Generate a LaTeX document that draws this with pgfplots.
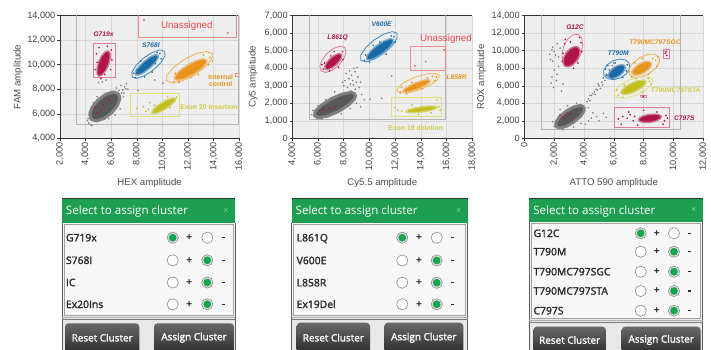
\documentclass[border=0pt]{standalone}
\usepackage{pgfplots}
\pgfplotsset{compat=1.18}
\usepackage{fontspec}
\setmainfont{Liberation Sans}
\newfontfamily\uifont{Open Sans}
\newfontfamily\uisemi[FakeBold=1.8]{Open Sans}

% plot colours
\definecolor{plotbg}{RGB}{238,238,238}
\definecolor{gridc}{RGB}{215,215,215}
\definecolor{gatec}{RGB}{180,180,180}
\definecolor{gcore}{RGB}{88,88,88}
\definecolor{ghalo}{RGB}{128,128,128}
\definecolor{crim}{RGB}{176,20,72}
\definecolor{crimL}{RGB}{226,122,156}
\definecolor{blu}{RGB}{26,106,166}
\definecolor{bluL}{RGB}{62,136,196}
\definecolor{org}{RGB}{232,148,28}
\definecolor{orgL}{RGB}{242,178,80}
\definecolor{yel}{RGB}{194,190,28}
\definecolor{yelL}{RGB}{224,222,118}
\definecolor{yelT}{RGB}{206,202,70}
\definecolor{unas}{RGB}{238,72,72}
\definecolor{unasL}{RGB}{240,140,140}
% panel colours
\definecolor{hdr}{RGB}{30,158,80}
\definecolor{hdrline}{RGB}{40,50,45}
\definecolor{hdrx}{RGB}{140,210,165}
\definecolor{listbg}{RGB}{247,247,247}
\definecolor{btnbg}{RGB}{232,232,232}
\definecolor{frame}{RGB}{90,90,90}
\definecolor{listline}{RGB}{160,160,160}
\definecolor{sepline}{RGB}{175,175,175}
\definecolor{uitext}{RGB}{40,40,40}
\definecolor{radring}{RGB}{140,140,140}
\definecolor{radsel}{RGB}{225,225,225}
\definecolor{radgreen}{RGB}{24,165,80}
\definecolor{btntop}{RGB}{105,105,105}
\definecolor{btnbot}{RGB}{34,34,34}

\pgfplotsset{
  dpcr/.style={
    scale only axis, height=122.6bp,
    axis background/.style={fill=plotbg},
    axis x line*=box, axis y line*=left,
    axis line style={draw=black!80, line width=0.6bp},
    xtick pos=left, tick align=outside,
    major tick length=2.5bp,
    tick style={draw=black!80, line width=0.5bp},
    grid=major, major grid style={draw=gridc, line width=0.5bp},
    ticklabel style={font=\fontsize{9.2}{9.2}\selectfont, text=black!75},
    xticklabel style={rotate=90, anchor=east, inner sep=1.5bp},
    yticklabel style={inner sep=2bp},
    label style={font=\fontsize{9.7}{10}\selectfont, text=black!70},
    xlabel style={at={(axis description cs:0.5,-0.362)}, anchor=center},
  },
  cluster/.style={color=#1, fill=#1, draw=#1!55!plotbg, line width=1.4bp, line join=round, mark=none},
  gray cluster/.style={color=gcore, fill=gcore, draw=ghalo, line width=3bp, line join=round, mark=none},
  ring/.style={color=#1, line width=0.8bp, line join=round, mark=none},
  gate/.style={color=#1, line width=0.8bp, mark=none},
  scat/.style={color=#1, only marks, mark=*, mark size=0.6bp, mark options={draw=none, fill=#1}},
}
\newcommand{\clab}{\bfseries\itshape\fontsize{6.7}{7}\selectfont}
\newcommand{\tlab}{\bfseries\fontsize{6.9}{7.6}\selectfont}
\newcommand{\ulab}{\fontsize{9.8}{10}\selectfont}

% cluster-assignment panel pieces
\newcommand{\radiobtn}[3]{%
  \ifnum#3=1
    \fill[radsel] (#1,#2) circle (5.6bp);
    \draw[radring, line width=0.6bp] (#1,#2) circle (5.6bp);
    \fill[radgreen] (#1,#2) circle (3.9bp);
  \else
    \fill[white] (#1,#2) circle (5.6bp);
    \draw[radring, line width=0.6bp] (#1,#2) circle (5.6bp);
  \fi}
\newcommand{\uipanel}[4]{% left, right, header bottom, list bottom
  \fill[listbg] (#1,#3) rectangle (#2,#4+1);
  \fill[btnbg] (#1,#4+1) rectangle (#2,352);
  \fill[hdr] (#1,198.5) rectangle (#2,#3);
  \draw[hdrline, line width=0.9bp] (#1,198.5) -- (#2,198.5);
  \draw[frame, line width=0.8bp] (#1,#3) -- (#1,352) (#2,#3) -- (#2,352);
  \draw[listline, line width=0.6bp] (#1+2,#3+0.8) rectangle (#2-2,#4);
  \draw[sepline, line width=0.7bp] (#1,#4+2) -- (#2,#4+2);
  \draw[sepline!70!black, line width=0.7bp] (#1,#4+4.3) -- (#2,#4+4.3);
  \node[anchor=west, inner sep=0, text height=8.2bp, text depth=0bp, text=white,
        font=\uifont\fontsize{11.6}{12}\selectfont] at (#1+3.8,{(198.5+#3)/2}) {Select to assign cluster};
  \node[inner sep=0, text=hdrx, font=\uifont\fontsize{9}{9}\selectfont] at (#2-9,{(198.5+#3)/2}) {×};
}
\newcommand{\uirow}[4]{% y, label, first selected, second selected
  \node[anchor=west, inner sep=0, text height=7.4bp, text depth=0bp, text=uitext,
        font=\uisemi\fontsize{10.4}{11}\selectfont] at (\tx,#1) {#2};
  \radiobtn{\ra}{#1}{#3}
  \node[inner sep=0, font=\bfseries\fontsize{10}{10}\selectfont, text=uitext] at (\pl,#1) {+};
  \radiobtn{\rb}{#1}{#4}
  \fill[uitext] (\mi-1.6,#1-0.7) rectangle (\mi+1.6,#1+0.7);
}
\newcommand{\uibutton}[5]{% left, right, top, text y, label
  \shade[top color=btntop, bottom color=btnbot, rounded corners=3.5bp] (#1,#3) rectangle (#2,358);
  \node[inner sep=0, text=white, font=\uisemi\fontsize{10}{10}\selectfont] at ({(#1+#2)/2},#4) {#5};
}

\begin{document}
\begin{tikzpicture}
\fill[white] (0,0) rectangle (711bp,-350bp);
\path[use as bounding box] (0,0) rectangle (711bp,-350bp);

% ---------------- HEX / FAM
\begin{axis}[dpcr, at={(60bp,-138.3bp)}, anchor=south west, width=179.3bp,
  xmin=2, xmax=16, ymin=4, ymax=14,
  xtick={2,4,...,16}, xticklabels={{2,000},{4,000},{6,000},{8,000},{10,000},{12,000},{14,000},{16,000}},
  ytick={4,6,...,14}, yticklabels={{4,000},{6,000},{8,000},{10,000},{12,000},{14,000}},
  xlabel={HEX amplitude}, ylabel={FAM amplitude},
  ylabel style={at={(axis description cs:-0.234,0.5)}, anchor=center}]
\addplot[gate=gatec, line width=1bp] coordinates {(3.3,5.1) (15.9,5.1) (15.9,14.3) (3.3,14.3) (3.3,5.1)};
\addplot[gate=unasL] coordinates {(8.12,12.25) (15.75,12.25) (15.75,14.3) (8.12,14.3) (8.12,12.25)};
\addplot[scat=unas] coordinates {(8.56,13.64) (15.1,12.6)};
% negatives
\addplot[gray cluster] coordinates {(6.56,7.66) (6.15,7.78) (5.57,7.59) (4.97,7.13) (4.51,6.53) (4.32,5.95) (4.44,5.54) (4.85,5.42) (5.43,5.61) (6.03,6.07) (6.49,6.67) (6.68,7.25) (6.56,7.66)};
\addplot[scat=ghalo] coordinates {(4.25,5.25) (4.4,5.1) (4.2,5.6) (4.5,5.05) (6.8,7.7) (6.9,7.95) (7.05,8.2) (7.2,8.45) (6.6,7.9) (7.0,7.7) (6.75,8.3) (7.3,8.0) (6.4,8.1) (5.0,8.55) (5.6,8.75) (5.3,8.6) (8.1,7.9) (9.4,8.75) (10.05,8.5) (4.3,6.1) (4.6,6.9) (6.7,6.4) (6.3,5.9) (5.8,5.6) (4.9,7.4) (6.95,7.4) (7.15,8.05) (4.15,5.45)};
\addplot[scat=crim] coordinates {(4.73,6.5) (5.2,6.31) (5.39,6.72) (5.83,7.13) (4.86,6.04)};
% G719x
\addplot[gate=crimL] coordinates {(4.6,8.97) (6.3,8.97) (6.3,11.73) (4.6,11.73) (4.6,8.97)};
\addplot[cluster=crim] coordinates {(5.78,11.13) (5.54,11.06) (5.26,10.74) (5.02,10.24) (4.89,9.70) (4.89,9.27) (5.02,9.07) (5.26,9.14) (5.54,9.47) (5.78,9.96) (5.91,10.50) (5.91,10.93) (5.78,11.13)};
\addplot[scat=crim] coordinates {(4.85,10.9) (5.05,11.4) (6.0,11.2) (5.95,9.6) (4.75,9.6) (5.7,11.5) (4.9,10.2) (6.05,10.4) (5.5,9.2) (5.1,9.5) (5.2,8.85)};
% S768I
\addplot[ring=bluL] coordinates {(10.16,11.11) (9.80,11.21) (9.19,10.99) (8.50,10.53) (7.92,9.93) (7.61,9.37) (7.64,8.99) (8.01,8.89) (8.61,9.11) (9.30,9.58) (9.88,10.17) (10.20,10.73) (10.16,11.11)};
\addplot[cluster=blu] coordinates {(9.66,10.78) (9.43,10.81) (9.01,10.61) (8.54,10.24) (8.12,9.80) (7.88,9.42) (7.88,9.18) (8.12,9.16) (8.53,9.35) (9.00,9.72) (9.42,10.16) (9.66,10.55) (9.66,10.78)};
\addplot[scat=blu] coordinates {(7.75,9.3) (7.9,8.95) (9.8,10.9) (9.9,10.5) (8.3,10.3) (9.2,9.4) (8.0,9.6) (9.6,11.0) (8.6,9.0) (9.45,10.1)};
% internal control
\addplot[ring=orgL] coordinates {(13.88,10.91) (13.44,11.08) (12.65,10.91) (11.70,10.44) (10.87,9.79) (10.36,9.15) (10.32,8.69) (10.76,8.52) (11.56,8.69) (12.50,9.16) (13.34,9.81) (13.84,10.45) (13.88,10.91)};
\addplot[cluster=org] coordinates {(13.47,10.40) (13.18,10.48) (12.63,10.33) (11.96,9.98) (11.36,9.53) (10.98,9.10) (10.93,8.81) (11.22,8.72) (11.77,8.87) (12.44,9.22) (13.04,9.67) (13.42,10.10) (13.47,10.40)};
\addplot[scat=org] coordinates {(10.9,8.6) (11.0,9.3) (13.7,10.6) (13.6,10.0) (11.6,9.6) (12.8,9.2) (13.2,10.8) (11.3,8.55) (12.2,8.95) (13.9,10.3)};
\addplot[gate=unasL] coordinates {(15.72,9.02) (16.3,9.02) (16.3,9.33) (15.72,9.33) (15.72,9.02)};
% exon 20 insertion
\addplot[gate=yelL] coordinates {(7.47,5.77) (11.32,5.77) (11.32,7.69) (7.47,7.69) (7.47,5.77)};
\addplot[cluster=yel] coordinates {(11.02,7.25) (10.82,7.30) (10.42,7.17) (9.94,6.90) (9.50,6.57) (9.22,6.26) (9.18,6.05) (9.38,6.00) (9.78,6.13) (10.26,6.40) (10.70,6.73) (10.98,7.04) (11.02,7.25)};
\addplot[scat=yel] coordinates {(8.0,6.45) (8.5,6.58) (8.9,6.36) (9.0,6.9) (11.1,7.35) (10.6,6.5) (9.4,6.7) (10.4,7.4) (8.7,6.2)};
\node[font=\clab, text=crim] at (axis cs:5.4,12.5) {G719x};
\node[font=\clab, text=blu] at (axis cs:9.1,11.6) {S768I};
\node[font=\tlab, text=org, align=center] at (axis cs:14.55,8.71) {Internal\\control};
\node[font=\tlab, text=yelT] at (axis cs:13.63,6.59) {Exon 20 insertion};
\node[font=\ulab, text=unas] at (axis cs:11.9,13.2) {Unassigned};
\end{axis}

% ---------------- Cy5.5 / Cy5
\begin{axis}[dpcr, at={(292.3bp,-138.3bp)}, anchor=south west, width=180bp,
  xmin=4, xmax=18, ymin=0, ymax=7,
  xtick={4,6,...,18}, xticklabels={{4,000},{6,000},{8,000},{10,000},{12,000},{14,000},{16,000},{18,000}},
  ytick={0,1,...,7}, yticklabels={0,{1,000},{2,000},{3,000},{4,000},{5,000},{6,000},{7,000}},
  xlabel={Cy5.5 amplitude}, ylabel={Cy5 amplitude},
  ylabel style={at={(axis description cs:-0.217,0.5)}, anchor=center}]
\addplot[gate=gatec, line width=1bp] coordinates {(5.3,1.05) (15.93,1.05) (15.93,7.2) (5.3,7.2) (5.3,1.05)};
\addplot[gate=unasL] coordinates {(13.2,3.86) (15.93,3.86) (15.93,5.23) (13.2,5.23) (13.2,3.86)};
\addplot[scat=unas] coordinates {(13.54,4.13) (14.37,4.38) (15.82,5.04)};
% negatives
\addplot[gray cluster] coordinates {(8.93,2.52) (8.58,2.62) (7.90,2.53) (7.06,2.27) (6.29,1.91) (5.79,1.55) (5.71,1.29) (6.06,1.18) (6.74,1.27) (7.58,1.53) (8.35,1.89) (8.85,2.25) (8.93,2.52)};
\addplot[scat=ghalo] coordinates {(8.3,2.9) (8.5,3.1) (8.7,3.3) (8.6,3.6) (8.9,3.8) (8.8,4.0) (9.1,3.5) (8.4,3.4) (8.0,3.0) (9.2,2.9) (8.9,2.8) (7.9,3.2) (8.2,3.7) (9.0,3.2) (8.75,3.05) (8.55,2.7) (9.3,3.2) (8.1,3.3) (8.45,3.85) (9.05,4.05) (5.5,1.35) (5.6,1.6) (5.9,1.1) (6.3,1.1) (6.0,1.85) (6.6,2.2) (7.3,2.65) (7.8,1.4) (8.5,1.7) (9.0,2.0) (9.4,2.5) (9.6,2.2) (10.04,2.23) (10.95,2.28) (11.73,3.56) (9.3,1.8)};
\addplot[scat=crim] coordinates {(6.41,1.62) (6.8,1.71) (7.32,1.77) (7.79,2.23) (6.15,1.58)};
% L861Q
\addplot[ring=crimL] coordinates {(8.08,5.18) (7.73,5.26) (7.22,5.14) (6.70,4.85) (6.30,4.46) (6.14,4.10) (6.24,3.84) (6.60,3.76) (7.10,3.88) (7.62,4.17) (8.02,4.56) (8.18,4.93) (8.08,5.18)};
\addplot[cluster=crim] coordinates {(7.83,4.80) (7.63,4.84) (7.31,4.75) (6.96,4.56) (6.68,4.33) (6.53,4.11) (6.56,3.96) (6.75,3.92) (7.07,4.01) (7.42,4.20) (7.70,4.43) (7.85,4.65) (7.83,4.80)};
\addplot[scat=crim] coordinates {(6.4,3.95) (6.5,4.3) (7.9,4.95) (7.95,4.5) (7.0,4.7) (6.9,3.85) (7.6,4.05) (7.25,4.95) (6.3,4.2)};
% V600E
\addplot[ring=bluL] coordinates {(12.15,6.01) (11.76,6.09) (11.11,5.95) (10.35,5.61) (9.70,5.17) (9.33,4.75) (9.33,4.45) (9.72,4.37) (10.37,4.51) (11.13,4.85) (11.78,5.29) (12.15,5.71) (12.15,6.01)};
\addplot[cluster=blu] coordinates {(11.86,5.65) (11.60,5.69) (11.14,5.56) (10.59,5.31) (10.10,4.99) (9.81,4.70) (9.78,4.51) (10.04,4.47) (10.50,4.60) (11.05,4.85) (11.54,5.17) (11.84,5.46) (11.86,5.65)};
\addplot[scat=blu] coordinates {(9.6,4.45) (9.7,4.75) (11.9,5.8) (12.0,5.5) (10.3,5.3) (11.3,4.8) (10.0,4.35) (11.7,5.85) (10.8,5.5)};
% L858R
\addplot[ring=orgL] coordinates {(15.43,3.58) (15.12,3.70) (14.45,3.67) (13.59,3.50) (12.79,3.23) (12.25,2.94) (12.11,2.70) (12.42,2.58) (13.09,2.61) (13.95,2.78) (14.75,3.05) (15.29,3.35) (15.43,3.58)};
\addplot[cluster=org] coordinates {(14.75,3.31) (14.56,3.36) (14.13,3.30) (13.57,3.17) (13.05,2.98) (12.69,2.80) (12.59,2.67) (12.78,2.62) (13.21,2.68) (13.77,2.81) (14.30,3.00) (14.66,3.18) (14.75,3.31)};
\addplot[scat=org] coordinates {(12.4,2.65) (12.5,2.9) (15.1,3.3) (15.2,3.5) (14.9,3.55) (13.3,3.2) (14.1,2.85) (12.9,2.55) (14.5,3.45)};
% exon 19 deletion
\addplot[gate=yelL] coordinates {(11.67,1.24) (15.56,1.24) (15.56,2.34) (11.67,2.34) (11.67,1.24)};
\addplot[cluster=yel] coordinates {(15.29,1.78) (15.11,1.84) (14.65,1.85) (14.03,1.80) (13.42,1.72) (12.98,1.62) (12.83,1.52) (13.01,1.46) (13.47,1.46) (14.09,1.50) (14.70,1.58) (15.14,1.68) (15.29,1.78)};
\addplot[scat=yel] coordinates {(12.2,1.6) (12.5,1.55) (12.0,1.75) (15.23,2.19) (15.4,1.8) (15.5,1.6) (13.3,1.9) (14.8,1.45) (13.8,1.35)};
\node[font=\clab, text=crim] at (axis cs:7.53,5.76) {L861Q};
\node[font=\clab, text=blu] at (axis cs:10.95,6.52) {V600E};
\node[font=\clab, text=org] at (axis cs:16.78,3.48) {L858R};
\node[font=\tlab, text=yelT] at (axis cs:13.6,0.61) {Exon 19 deletion};
\node[font=\ulab, text=unas] at (axis cs:15.95,5.65) {Unassigned};
\end{axis}

% ---------------- ATTO 590 / ROX
\begin{axis}[dpcr, at={(524.3bp,-138.3bp)}, anchor=south west, width=179bp,
  xmin=0, xmax=12, ymin=0, ymax=14,
  xtick={0,2,...,12}, xticklabels={0,{2,000},{4,000},{6,000},{8,000},{10,000},{12,000}},
  ytick={0,2,...,14}, yticklabels={0,{2,000},{4,000},{6,000},{8,000},{10,000},{12,000},{14,000}},
  xlabel={ATTO 590 amplitude}, ylabel={ROX amplitude},
  ylabel style={at={(axis description cs:-0.238,0.5)}, anchor=center}]
\addplot[gate=gatec, line width=1bp] coordinates {(1.12,0.95) (10.48,0.95) (10.48,14.3) (1.12,14.3) (1.12,0.95)};
% negatives
\addplot[gray cluster] coordinates {(4.01,3.60) (3.76,3.76) (3.31,3.58) (2.80,3.09) (2.36,2.44) (2.11,1.80) (2.11,1.34) (2.37,1.18) (2.81,1.36) (3.32,1.85) (3.76,2.50) (4.01,3.14) (4.01,3.60)};
\addplot[scat=ghalo] coordinates {(4.2,4.2) (4.3,4.5) (4.5,4.9) (4.7,5.3) (4.8,5.6) (5.0,6.0) (5.2,6.4) (5.3,6.9) (5.5,7.3) (5.7,7.8) (5.9,8.3) (4.4,4.9) (4.9,5.5) (5.1,5.7) (5.4,6.6) (4.6,5.1) (4.95,6.2) (5.6,7.1) (4.4,4.3) (4.75,5.0) (5.25,6.1) (5.8,7.6) (6.0,8.6) (4.3,2.0) (4.5,2.3) (4.85,2.47) (5.3,2.85) (5.0,2.0) (5.5,2.4) (4.6,2.9) (4.3,3.5) (4.1,1.6) (1.9,10.4) (2.0,9.9) (2.2,10.8) (1.7,9.6) (2.3,9.3) (1.75,9.0) (1.9,8.8) (2.0,7.8) (1.85,7.0) (2.15,6.6) (1.8,6.3) (2.3,8.2) (2.1,9.5) (1.85,10.1) (2.4,10.3) (2.2,7.3) (1.95,5.8) (2.5,5.4) (2.6,6.2) (2.0,1.4) (1.9,1.9) (2.6,1.0) (3.3,1.3) (3.8,1.7) (2.4,3.3) (2.9,3.7) (3.5,4.0)};
\addplot[scat=crim] coordinates {(2.39,2.66) (2.61,2.47) (2.84,2.85) (3.06,2.78) (2.7,2.3)};
% G12C
\addplot[ring=crimL] coordinates {(3.60,11.87) (3.26,11.81) (2.90,11.29) (2.63,10.44) (2.52,9.50) (2.60,8.71) (2.84,8.29) (3.18,8.35) (3.54,8.87) (3.81,9.72) (3.92,10.66) (3.85,11.45) (3.60,11.87)};
\addplot[cluster=crim] coordinates {(3.62,10.41) (3.38,10.49) (3.08,10.24) (2.80,9.76) (2.63,9.15) (2.60,8.59) (2.72,8.23) (2.96,8.16) (3.26,8.40) (3.54,8.88) (3.71,9.49) (3.74,10.05) (3.62,10.41)};
\addplot[scat=crim] coordinates {(2.7,10.8) (2.75,11.3) (3.7,11.5) (3.8,10.9) (2.6,9.7) (3.6,8.6) (3.1,11.0) (2.55,8.8) (3.85,9.9) (3.3,8.0)};
% T790M
\addplot[ring=bluL] coordinates {(7.04,8.55) (6.80,8.94) (6.39,9.05) (5.93,8.84) (5.54,8.37) (5.32,7.77) (5.34,7.19) (5.59,6.80) (5.99,6.69) (6.45,6.90) (6.85,7.37) (7.06,7.97) (7.04,8.55)};
\addplot[cluster=blu] coordinates {(6.74,8.27) (6.57,8.41) (6.30,8.34) (6.00,8.08) (5.75,7.69) (5.62,7.28) (5.64,6.96) (5.81,6.81) (6.08,6.88) (6.38,7.14) (6.63,7.53) (6.76,7.94) (6.74,8.27)};
\addplot[scat=blu] coordinates {(5.5,7.2) (5.6,8.3) (6.9,8.4) (6.85,7.7) (6.1,8.6) (5.9,6.9) (6.6,6.95) (5.45,7.9)};
% T790M + C797S (G>C)
\addplot[ring=orgL] coordinates {(9.05,9.28) (8.75,9.61) (8.27,9.58) (7.73,9.21) (7.27,8.59) (7.01,7.90) (7.03,7.30) (7.33,6.97) (7.81,7.00) (8.35,7.37) (8.81,7.99) (9.07,8.69) (9.05,9.28)};
\addplot[cluster=org] coordinates {(8.51,8.62) (8.34,8.78) (8.05,8.73) (7.70,8.48) (7.41,8.10) (7.23,7.69) (7.23,7.36) (7.40,7.20) (7.70,7.25) (8.04,7.50) (8.34,7.88) (8.51,8.29) (8.51,8.62)};
\addplot[scat=org] coordinates {(7.2,7.0) (7.4,8.6) (8.8,8.9) (8.9,8.2) (8.6,9.1) (7.9,9.1) (8.3,7.3) (7.05,7.6) (8.95,9.3)};
% T790M + C797S (T>A)
\addplot[ring=yelL] coordinates {(8.60,6.71) (8.32,7.03) (7.77,7.03) (7.10,6.70) (6.49,6.14) (6.09,5.49) (6.03,4.93) (6.30,4.61) (6.85,4.61) (7.52,4.94) (8.14,5.50) (8.53,6.15) (8.60,6.71)};
\addplot[cluster=yel] coordinates {(8.16,6.50) (7.98,6.65) (7.62,6.58) (7.18,6.30) (6.77,5.90) (6.51,5.48) (6.46,5.14) (6.64,4.99) (7.00,5.06) (7.44,5.34) (7.85,5.74) (8.11,6.16) (8.16,6.50)};
\addplot[scat=yel] coordinates {(6.3,4.9) (6.2,5.5) (8.4,6.5) (8.3,6.85) (6.7,6.1) (7.9,5.3) (7.5,6.8) (6.6,4.7) (8.5,6.2)};
% C797S
\addplot[gate=crimL] coordinates {(6.01,1.22) (9.72,1.22) (9.72,3.50) (6.01,3.50) (6.01,1.22)};
\addplot[cluster=crim] coordinates {(9.20,2.47) (9.07,2.67) (8.78,2.76) (8.38,2.73) (8.00,2.58) (7.73,2.35) (7.65,2.09) (7.77,1.89) (8.06,1.80) (8.46,1.83) (8.84,1.98) (9.11,2.22) (9.20,2.47)};
\addplot[scat=crim] coordinates {(6.3,2.2) (6.6,2.5) (6.9,2.3) (7.1,2.7) (7.3,2.0) (7.4,2.5) (9.4,2.0) (9.5,2.6) (7.0,3.0) (6.5,1.6) (9.3,1.6) (9.6,2.3) (8.0,3.2) (8.9,3.0) (7.6,1.5)};
% small unassigned gates
\addplot[gate=crimL, line width=0.7bp] coordinates {(9.32,9.13) (9.72,9.13) (9.72,10.16) (9.32,10.16) (9.32,9.13)};
\addplot[scat=crim] coordinates {(9.45,9.7) (9.55,9.45) (9.5,9.9)};
\addplot[gate=crimL, line width=0.7bp] coordinates {(7.8,4.68) (8.16,4.68) (8.16,4.94) (7.8,4.94) (7.8,4.68)};
\addplot[scat=crim] coordinates {(7.98,4.8)};
\node[font=\clab, text=crim] at (axis cs:3.40,12.74) {G12C};
\node[font=\clab, text=blu] at (axis cs:6.30,9.70) {T790M};
\node[font=\clab, text=org] at (axis cs:8.76,11.03) {T790MC797SGC};
\node[font=\clab, text=yelT] at (axis cs:10.15,5.44) {T790MC797STA};
\node[font=\clab, text=crim] at (axis cs:10.73,2.28) {C797S};
\end{axis}

% ---------------- cluster assignment panels
\begin{scope}[x=1bp, y=-1bp]
\uipanel{62}{235}{223}{315}
\def\tx{65.8}\def\ra{172.7}\def\pl{189.3}\def\rb{207.3}\def\mi{223.3}
\uirow{237.7}{G719x}{1}{0}
\uirow{260.3}{S768I}{0}{1}
\uirow{282.5}{IC}{0}{1}
\uirow{304.3}{Ex20Ins}{0}{1}
\uibutton{65}{139.3}{323.3}{337.7}{Reset Cluster}
\uibutton{154}{234}{323.3}{337.7}{Assign Cluster}

\uipanel{291.7}{467.7}{223}{315}
\def\tx{296.5}\def\ra{402.3}\def\pl{419}\def\rb{436.7}\def\mi{452.7}
\uirow{237.7}{L861Q}{1}{0}
\uirow{260.5}{V600E}{0}{1}
\uirow{282.7}{L858R}{0}{1}
\uirow{304.3}{Ex19Del}{0}{1}
\uibutton{296.7}{370}{322.7}{337.7}{Reset Cluster}
\uibutton{384.3}{463.3}{322.7}{337.7}{Assign Cluster}

\uipanel{529.3}{702.7}{222}{318.3}
\def\tx{533.3}\def\ra{640.7}\def\pl{656.7}\def\rb{674}\def\mi{689.3}
\uirow{233.3}{G12C}{1}{0}
\uirow{251.7}{T790M}{0}{1}
\uirow{271.7}{T790MC797SGC}{0}{1}
\uirow{291}{T790MC797STA}{0}{1}
\uirow{310.7}{C797S}{0}{1}
\uibutton{533.3}{606}{326.7}{340}{Reset Cluster}
\uibutton{621.7}{700.7}{326.7}{340}{Assign Cluster}
\end{scope}
\end{tikzpicture}
\end{document}
